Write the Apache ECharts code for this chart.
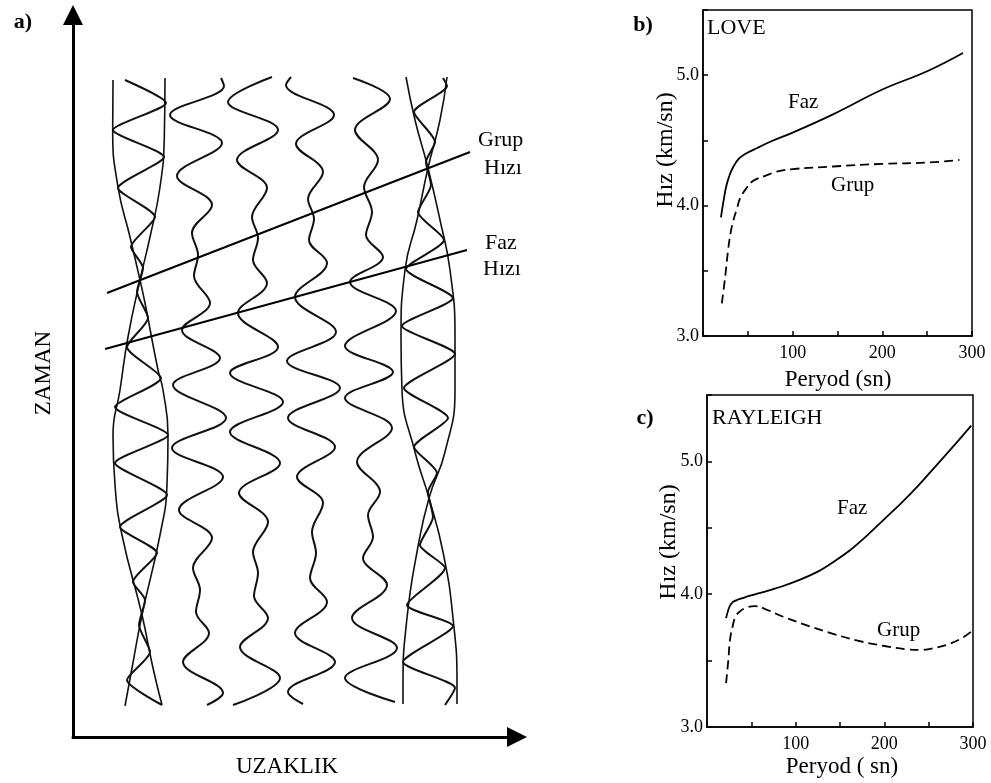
<!DOCTYPE html>
<html>
<head>
<meta charset="utf-8">
<script src="https://cdn.jsdelivr.net/npm/echarts@6/dist/echarts.min.js"></script>
<style>
html,body{margin:0;padding:0;background:#fff;}
#chart{width:991px;height:783px;}
</style>
</head>
<body>
<div id="chart"></div>
<script>
// ---------- Panel a: schematic traces (distance units, time units; time axis inverted) ----------
const leftEnvelopeA = [[113,80],[112.7,130],[118,187],[130,237],[140,280],[145,303],[158,370],[163,390],[168,435],[167,485],[160,535],[142,615],[132,668],[125,706]];
const leftEnvelopeB = [[165,78],[164.3,137],[160,187],[150,237],[140,280],[128,337],[120,390],[113,435],[115,485],[122,535],[142,615],[153,668],[162,705]];
const leftWave = [[125,80],[166,103],[113,130],[164,157],[118,188],[155,217],[131,247],[143,268],[137,292],[148,318],[127,347],[161,378],[115,407],[168,435],[115,463],[167,495],[120,527],[157,553],[133,582],[145,600],[139,625],[150,652],[127,680],[162,705]];
const trace2 = [[221,78],[224,86],[170,115],[222,143],[177,176],[212,205],[192,233],[198,255],[194,276],[210,303],[182,330],[220,358],[173,385],[226,418],[172,448],[223,477],[179,510],[212,538],[193,568],[200,590],[196,612],[209,633],[183,662],[223,693],[207,705]];
const trace3 = [[272,77],[228,102],[278,130],[237,160],[267,188],[252,217],[258,238],[253,260],[267,283],[238,313],[278,347],[230,373],[283,402],[230,432],[280,463],[239,493],[268,522],[253,552],[258,573],[254,596],[268,618],[240,647],[280,678],[233,705]];
const trace4 = [[291,77],[286,85],[334,115],[296,144],[323,172],[308,199],[314,219],[309,240],[327,263],[295,297],[336,332],[287,361],[340,388],[288,418],[335,447],[297,477],[323,503],[312,532],[316,553],[310,578],[327,602],[295,633],[335,662],[288,692],[303,704]];
const trace5 = [[353,78],[390,99],[355,130],[378,160],[364,187],[372,212],[366,235],[383,257],[350,282],[396,311],[345,346],[393,372],[345,398],[392,428],[357,462],[380,492],[368,515],[373,537],[363,558],[387,585],[352,618],[397,648],[345,678],[395,702]];
const rightEnvelopeC = [[406,77],[415,120],[428,168],[440,220],[450,270],[455,337],[455,390],[445,452],[429,498],[417,552],[407,618],[403,685],[403,704]];
const rightEnvelopeD = [[447,77],[440,120],[428,168],[417,220],[405,270],[401,337],[402,390],[415,452],[429,498],[443,552],[453,618],[457,685],[457,704]];
const rightWave = [[443,78],[447,86],[414,112],[435,142],[426,162],[431,185],[418,212],[444,240],[406,269],[453,298],[402,326],[455,354],[404,388],[448,418],[414,447],[437,473],[428,492],[433,517],[420,545],[445,568],[407,605],[453,626],[403,662],[455,688],[445,705]];
const grupLine = [[107,293],[470,152]];
const fazLine = [[105,349],[467,250]];

// ---------- Panel b: LOVE ----------
const loveFaz = [[20,3.91],[23,4.04],[26,4.15],[30,4.24],[34,4.30],[40,4.36],[48,4.40],[60,4.44],[75,4.49],[100,4.56],[145,4.70],[200,4.89],[250,5.03],[290,5.17]];
const loveGrup = [[21,3.25],[25,3.47],[28,3.66],[31,3.80],[34,3.89],[38,3.98],[41,4.05],[48,4.13],[56,4.19],[70,4.23],[82,4.26],[100,4.28],[145,4.30],[200,4.32],[250,4.33],[286,4.35]];

// ---------- Panel c: RAYLEIGH ----------
const rayFaz = [[21.5,3.82],[25,3.90],[29,3.94],[35,3.96],[42,3.975],[55,4.00],[68,4.025],[85,4.06],[105,4.11],[125,4.17],[143,4.245],[162,4.335],[181,4.445],[200,4.565],[219,4.685],[238,4.815],[256,4.95],[278,5.115],[298,5.27]];
const rayGrup = [[21.5,3.33],[24,3.50],[26,3.66],[29,3.76],[32,3.83],[37,3.87],[45,3.90],[54,3.91],[65,3.89],[86,3.83],[115,3.76],[143,3.70],[170,3.65],[200,3.61],[225,3.585],[241,3.58],[260,3.60],[275,3.63],[290,3.68],[300,3.73]];

const yTicks = [3.0, 4.0, 5.0];
const xTicks = [100, 200, 300];

const FONT = '"Liberation Serif","Times New Roman",serif';
const chart = echarts.init(document.getElementById('chart'), null, {renderer:'canvas'});

function lineSeries(data, xi, yi, opts) {
  return Object.assign({
    type:'line', data:data, xAxisIndex:xi, yAxisIndex:yi,
    showSymbol:false, symbol:'none', silent:true, animation:false,
    lineStyle:{color:'#000', width:2}
  }, opts || {});
}

const waveStyle = {color:'#111', width:2};
const envStyle = {color:'#111', width:1.6};

const panelAxisY = (gi) => ({
  gridIndex: gi, type:'value', min:3, max:5.5, interval:0.5,
  axisLine:{show:true, lineStyle:{color:'#000', width:1.5}},
  axisTick:{show:true, inside:true, length:5, lineStyle:{color:'#000', width:1.5}},
  axisLabel:{show:true, margin:4, color:'#000', fontFamily:FONT, fontSize:18,
    formatter: v => (yTicks.some(t => Math.abs(t - v) < 1e-6) ? v.toFixed(1) : '')},
  splitLine:{show:false}
});
const panelAxisX = (gi) => ({
  gridIndex: gi, type:'value', min:0, max:300, interval:50,
  axisLine:{show:true, onZero:false, lineStyle:{color:'#000', width:1.5}},
  axisTick:{show:true, inside:true, length:5, lineStyle:{color:'#000', width:1.5}},
  axisLabel:{show:true, margin:8, color:'#000', fontFamily:FONT, fontSize:18,
    formatter: v => (xTicks.indexOf(v) >= 0 ? String(v) : '')},
  splitLine:{show:false}
});

function txt(x, y, text, size, opts) {
  return Object.assign({
    type:'text', x:x, y:y, silent:true,
    style:{text:text, font: (opts && opts.bold ? 'bold ' : '') + size + 'px ' + FONT, fill:'#000',
      align:(opts && opts.align) || 'center', verticalAlign:'middle'}
  }, opts && opts.rotation ? {rotation: opts.rotation} : {});
}

const option = {
  backgroundColor:'#fff',
  animation:false,
  grid:[
    {left:73, top:15, width:444, height:722, show:false},
    {left:703, top:10, width:269, height:326, show:true, borderColor:'#000', borderWidth:1.5, backgroundColor:'transparent'},
    {left:707, top:395, width:266, height:332, show:true, borderColor:'#000', borderWidth:1.5, backgroundColor:'transparent'}
  ],
  xAxis:[
    {gridIndex:0, type:'value', min:73, max:517, position:'bottom',
      axisLine:{show:true, onZero:false, symbol:['none','triangle'], symbolSize:[20,20], lineStyle:{color:'#000', width:3}},
      axisTick:{show:false}, axisLabel:{show:false}, splitLine:{show:false}},
    panelAxisX(1), panelAxisX(2)
  ],
  yAxis:[
    {gridIndex:0, type:'value', min:15, max:737, inverse:true, position:'left',
      axisLine:{show:true, onZero:false, symbol:['none','triangle'], symbolSize:[20,20], lineStyle:{color:'#000', width:3}},
      axisTick:{show:false}, axisLabel:{show:false}, splitLine:{show:false}},
    panelAxisY(1), panelAxisY(2)
  ],
  series:[
    lineSeries(leftEnvelopeA,0,0,{smooth:0.5, lineStyle:envStyle}),
    lineSeries(leftEnvelopeB,0,0,{smooth:0.5, lineStyle:envStyle}),
    lineSeries(leftWave,0,0,{smooth:0.22, lineStyle:waveStyle}),
    lineSeries(trace2,0,0,{smooth:0.36, lineStyle:waveStyle}),
    lineSeries(trace3,0,0,{smooth:0.36, lineStyle:waveStyle}),
    lineSeries(trace4,0,0,{smooth:0.36, lineStyle:waveStyle}),
    lineSeries(trace5,0,0,{smooth:0.36, lineStyle:waveStyle}),
    lineSeries(rightEnvelopeC,0,0,{smooth:0.5, lineStyle:envStyle}),
    lineSeries(rightEnvelopeD,0,0,{smooth:0.5, lineStyle:envStyle}),
    lineSeries(rightWave,0,0,{smooth:0.22, lineStyle:waveStyle}),
    lineSeries(grupLine,0,0,{lineStyle:{color:'#000', width:2}}),
    lineSeries(fazLine,0,0,{lineStyle:{color:'#000', width:2}}),
    lineSeries(loveFaz,1,1,{smooth:0.4, lineStyle:{color:'#000', width:1.8}}),
    lineSeries(loveGrup,1,1,{smooth:0.4, lineStyle:{color:'#000', width:1.8, type:[9,5]}}),
    lineSeries(rayFaz,2,2,{smooth:0.3, lineStyle:{color:'#000', width:1.8}}),
    lineSeries(rayGrup,2,2,{smooth:0.4, lineStyle:{color:'#000', width:1.8, type:[9,5]}})
  ],
  graphic:[
    txt(23, 22, 'a)', 22, {bold:true}),
    txt(44, 373, 'ZAMAN', 23, {rotation:Math.PI/2}),
    txt(287, 767, 'UZAKLIK', 23),
    txt(478, 140, 'Grup', 22, {align:'left'}),
    txt(484, 168, 'Hızı', 22, {align:'left'}),
    txt(485, 243, 'Faz', 22, {align:'left'}),
    txt(483, 269, 'Hızı', 22, {align:'left'}),
    txt(643, 25, 'b)', 22, {bold:true}),
    txt(707, 28, 'LOVE', 22, {align:'left'}),
    txt(788, 102, 'Faz', 21, {align:'left'}),
    txt(831, 185, 'Grup', 21, {align:'left'}),
    txt(666, 150, 'Hız (km/sn)', 24, {rotation:Math.PI/2}),
    txt(838, 380, 'Peryod (sn)', 23),
    txt(645, 418, 'c)', 22, {bold:true}),
    txt(712, 418, 'RAYLEIGH', 22, {align:'left'}),
    txt(837, 508, 'Faz', 21, {align:'left'}),
    txt(877, 630, 'Grup', 21, {align:'left'}),
    txt(669, 542, 'Hız (km/sn)', 24, {rotation:Math.PI/2}),
    txt(842, 767, 'Peryod ( sn)', 23)
  ]
};
chart.setOption(option);
</script>
</body>
</html>
